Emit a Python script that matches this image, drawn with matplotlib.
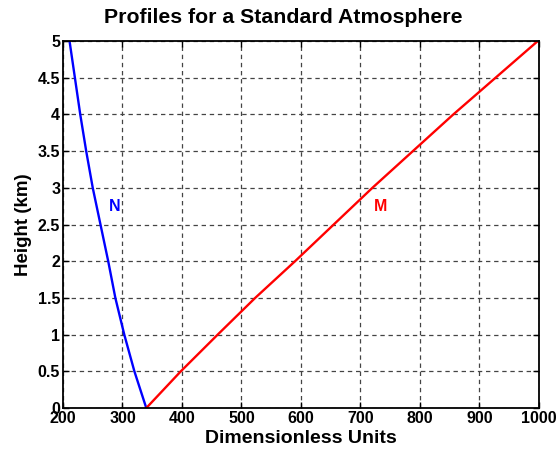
import matplotlib
matplotlib.use("Agg")
import matplotlib.pyplot as plt

plt.rcParams["font.family"] = ["Liberation Sans", "DejaVu Sans"]
plt.rcParams["font.weight"] = "bold"

# heights (km) and profiles
height = [0, 0.5, 1, 1.5, 2, 2.5, 3, 3.5, 4, 4.5, 5]
n_vals = [340, 320, 303, 288, 276, 263, 250, 239, 229, 220, 211]
m_vals = [340, 398, 460, 523, 590, 655, 720, 788, 856, 927, 998]

x_ticks = [200, 300, 400, 500, 600, 700, 800, 900, 1000]
y_ticks = [0, 0.5, 1, 1.5, 2, 2.5, 3, 3.5, 4, 4.5, 5]
y_labels = ["0", "0.5", "1", "1.5", "2", "2.5", "3", "3.5", "4", "4.5", "5"]

fig = plt.figure(figsize=(5.56, 4.51), dpi=100)
ax = fig.add_axes([0.1133, 0.0953, 0.8561, 0.8137])

ax.plot(n_vals, height, color="#0000ff", lw=1.7)
ax.plot(m_vals, height, color="#ff0000", lw=1.7)
ax.text(287, 2.74, "N", color="#0000ff", fontsize=11.5, fontweight="bold",
        ha="center", va="center")
ax.text(734, 2.74, "M", color="#ff0000", fontsize=11.5, fontweight="bold",
        ha="center", va="center")

ax.set_xlim(200, 1000)
ax.set_ylim(0, 5)
ax.set_xticks(x_ticks)
ax.set_yticks(y_ticks)
ax.set_yticklabels(y_labels)
ax.tick_params(direction="in", top=True, right=True, length=4, width=1,
               labelsize=11.5, pad=2)
for lab in ax.get_xticklabels() + ax.get_yticklabels():
    lab.set_fontweight("bold")
ax.grid(True, color="#444444", linestyle=(0, (3.5, 3)), lw=0.9)
for sp in ax.spines.values():
    sp.set_linewidth(1.3)

ax.set_title("Profiles for a Standard Atmosphere", fontsize=15.3,
             fontweight="bold", pad=13, x=0.463)
ax.set_xlabel("Dimensionless Units", fontsize=14, fontweight="bold", labelpad=3)
ax.set_ylabel("Height (km)", fontsize=13.5, fontweight="bold", labelpad=4)

fig.savefig("out.png", dpi=100)
